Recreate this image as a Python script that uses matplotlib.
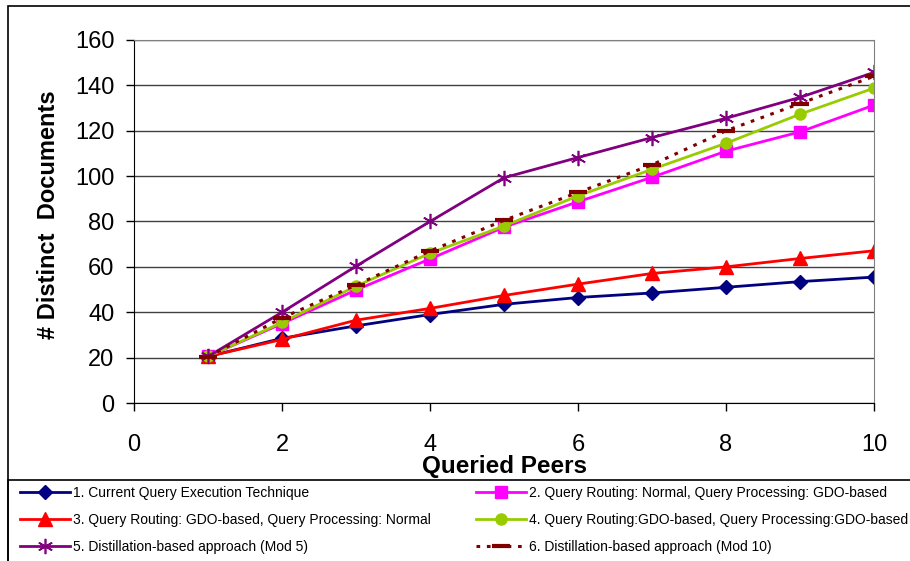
import matplotlib
matplotlib.use("Agg")
import matplotlib.pyplot as plt
from matplotlib.patches import Rectangle

plt.rcParams['font.family'] = ['Liberation Sans', 'DejaVu Sans']

# data
peers = [1, 2, 3, 4, 5, 6, 7, 8, 9, 10]
current = [20.5, 28.5, 34, 39, 43.5, 46.5, 48.5, 51, 53.5, 55.5]
routing_normal = [20.5, 35, 49.8, 63.5, 77.5, 88.7, 99.5, 111, 119.5, 131.3]
processing_normal = [20.5, 28, 36.5, 41.7, 47.4, 52.4, 57.1, 60, 63.7, 67.1]
both_gdo = [20.5, 35.5, 51.5, 66, 78, 91.3, 103, 114.5, 127.3, 138.8]
distill_mod5 = [20.5, 40, 60.3, 80, 99.3, 108.2, 117, 125.5, 134.7, 145.7]
distill_mod10 = [20.3, 37.5, 52, 67, 80.5, 92.8, 105, 120, 132, 144]

labels = [
    "1. Current Query Execution Technique",
    "2. Query Routing: Normal, Query Processing: GDO-based",
    "3. Query Routing: GDO-based, Query Processing: Normal",
    "4. Query Routing:GDO-based, Query Processing:GDO-based",
    "5. Distillation-based approach (Mod 5)",
    "6. Distillation-based approach (Mod 10)",
]
x_ticks = [0, 2, 4, 6, 8, 10]
y_ticks = [0, 20, 40, 60, 80, 100, 120, 140, 160]

fig = plt.figure(figsize=(9.1, 5.61), dpi=100)
ax = fig.add_axes([134 / 910, 1 - 403 / 561, 740 / 910, 363 / 561])

lines = []
lines += ax.plot(peers, current, color="#000080", lw=2, marker="D", ms=7,
                 label=labels[0])
lines += ax.plot(peers, routing_normal, color="#FF00FF", lw=2, marker="s", ms=8,
                 label=labels[1])
lines += ax.plot(peers, processing_normal, color="#FF0000", lw=2, marker="^", ms=10,
                 label=labels[2])
lines += ax.plot(peers, both_gdo, color="#99CC00", lw=2, marker="o", ms=8,
                 label=labels[3])
lines += ax.plot(peers, distill_mod5, color="#800080", lw=2, marker=(6, 2, 0), ms=11,
                 mew=1.2, label=labels[4])
lines += ax.plot(peers, distill_mod10, color="#800000", lw=2.2, ls=(0, (1.2, 2.2)),
                 marker="_", ms=13, mew=3, label=labels[5])

ax.set_xlim(0, 10)
ax.set_ylim(0, 160)
ax.set_xticks(x_ticks)
ax.set_yticks(y_ticks)
ax.tick_params(axis="both", direction="out", length=6, width=1, labelsize=17)
ax.tick_params(axis="x", pad=16)
ax.tick_params(axis="y", pad=8)
ax.grid(axis="y", color="#404040", lw=1)
ax.set_axisbelow(True)
for side in ["top", "right"]:
    ax.spines[side].set_color("#808080")
ax.spines["left"].set_color("black")
ax.spines["bottom"].set_color("black")

ax.set_xlabel("Queried Peers", fontsize=17.5, fontweight="bold")
ax.xaxis.set_label_coords(0.5, -0.143)
ax.set_ylabel("# Distinct  Documents", fontsize=17, fontweight="bold")
ax.yaxis.set_label_coords(-0.1, 0.52)

# chart border and legend box
fig.patches.append(Rectangle((8 / 910, -0.1), 1.2, 1.1 - 6 / 561, transform=fig.transFigure,
                             fill=False, edgecolor="black", lw=1.2))
fig.patches.append(Rectangle((8 / 910, -0.1), 1.2, 0.1 + (561 - 480) / 561,
                             transform=fig.transFigure, fill=False, edgecolor="black", lw=1.2))

kw = dict(frameon=False, fontsize=10, handlelength=3.6, handletextpad=0.25,
          labelspacing=0.93, borderpad=0, borderaxespad=0, loc="upper left")
fig.legend([lines[0], lines[2], lines[4]], [labels[0], labels[2], labels[4]],
           bbox_to_anchor=(20 / 910, 1 - 486 / 561), **kw)
fig.legend([lines[1], lines[3], lines[5]], [labels[1], labels[3], labels[5]],
           bbox_to_anchor=(476 / 910, 1 - 486 / 561), **kw)

fig.savefig("out.png", dpi=100)
